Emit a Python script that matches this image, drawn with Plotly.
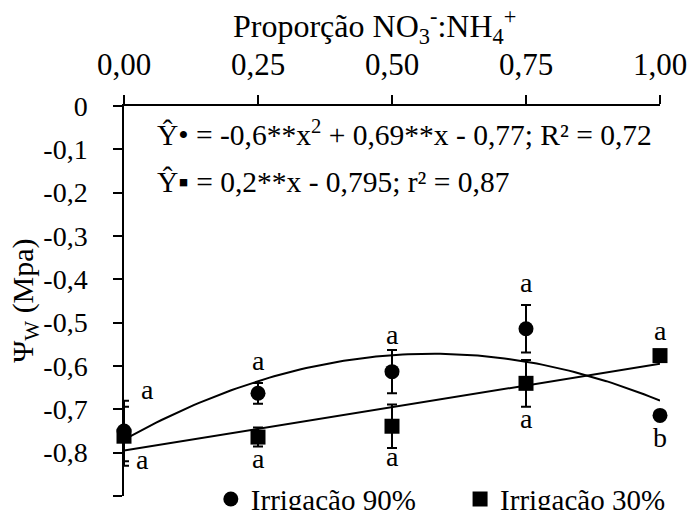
import numpy as np
import plotly.graph_objects as go

# ---- data ----
x_vals = [0.0, 0.25, 0.50, 0.75, 1.0]
x_ticktext = ["0,00", "0,25", "0,50", "0,75", "1,00"]
y_tickvals = [0, -0.1, -0.2, -0.3, -0.4, -0.5, -0.6, -0.7, -0.8, -0.9]
y_ticktext = ["0", "-0,1", "-0,2", "-0,3", "-0,4", "-0,5", "-0,6", "-0,7", "-0,8", "-0,9"]

irr90_mean = [-0.750, -0.663, -0.613, -0.514, -0.714]
irr90_err = [0.070, 0.024, 0.050, 0.055, 0.008]
irr90_letters = ["a", "a", "a", "a", "b"]

irr30_mean = [-0.762, -0.764, -0.739, -0.640, -0.576]
irr30_err = [0.068, 0.022, 0.050, 0.054, 0.008]
irr30_letters = ["a", "a", "a", "a", "a"]

# regression coefficients printed on the chart (highest power first)
fit90_coef = [-0.6, 0.69, -0.77]
fit30_coef = [0.2, -0.795]

eq90 = "Ŷ• = -0,6**x<sup>2</sup> + 0,69**x - 0,77; R² = 0,72"
eq30 = "Ŷ▪ = 0,2**x - 0,795; r² = 0,87"

FONT = "Liberation Serif, Times New Roman, serif"

fig = go.Figure()

xs = np.linspace(0, 1, 101)
fig.add_trace(go.Scatter(x=xs, y=np.polyval(fit90_coef, xs), mode="lines",
                         line=dict(color="black", width=2), showlegend=False,
                         hoverinfo="skip", cliponaxis=False))
fig.add_trace(go.Scatter(x=xs, y=np.polyval(fit30_coef, xs), mode="lines",
                         line=dict(color="black", width=2), showlegend=False,
                         hoverinfo="skip", cliponaxis=False))

fig.add_trace(go.Scatter(x=x_vals, y=irr90_mean, mode="markers", name="Irrigação 90%",
                         marker=dict(symbol="circle", size=15, color="black"),
                         error_y=dict(type="data", array=irr90_err, color="black",
                                      thickness=2, width=5),
                         cliponaxis=False, legend="legend"))
fig.add_trace(go.Scatter(x=x_vals, y=irr30_mean, mode="markers", name="Irrigação 30%",
                         marker=dict(symbol="square", size=15, color="black"),
                         error_y=dict(type="data", array=irr30_err, color="black",
                                      thickness=2, width=5),
                         cliponaxis=False, legend="legend2"))

# letter annotations (pixel offsets from each point)
shift90 = [(23, 42), (0, 33), (0, 37), (0, 46), (0, -22)]
shift30 = [(18, -23), (0, -21), (0, -30), (0, -35), (0, 25)]
annos = []
for xv, yv, t, (dx, dy) in zip(x_vals, irr90_mean, irr90_letters, shift90):
    annos.append(dict(x=xv, y=yv, text=t, showarrow=False, xshift=dx, yshift=dy,
                      font=dict(family=FONT, size=28, color="black")))
for xv, yv, t, (dx, dy) in zip(x_vals, irr30_mean, irr30_letters, shift30):
    annos.append(dict(x=xv, y=yv, text=t, showarrow=False, xshift=dx, yshift=dy,
                      font=dict(family=FONT, size=28, color="black")))

annos.append(dict(xref="paper", yref="paper", x=0.058, y=0.93, xanchor="left",
                  yanchor="middle", text=eq90, showarrow=False,
                  font=dict(family=FONT, size=29.5, color="black")))
annos.append(dict(xref="paper", yref="paper", x=0.058, y=0.806, xanchor="left",
                  yanchor="middle", text=eq30, showarrow=False,
                  font=dict(family=FONT, size=29.5, color="black")))
annos.append(dict(xref="paper", yref="paper", x=0.467, y=1.205, xanchor="center",
                  yanchor="middle",
                  text="Proporção NO<sub>3</sub><sup>-</sup>:NH<sub>4</sub><sup>+</sup>",
                  showarrow=False, font=dict(family=FONT, size=32, color="black")))
# y-axis title
annos.append(dict(xref="paper", yref="paper", x=-0.185, y=0.5, xanchor="center",
                  yanchor="middle", textangle=-90,
                  text="Ψ<sub>W</sub> (Mpa)", showarrow=False,
                  font=dict(family=FONT, size=30, color="black")))

legend_common = dict(orientation="h", yanchor="middle", xanchor="left",
                     bgcolor="rgba(0,0,0,0)", itemwidth=30,
                     font=dict(family=FONT, size=29, color="black"))

fig.update_layout(
    width=691, height=510,
    margin=dict(l=124, r=31, t=106, b=14, autoexpand=False),
    paper_bgcolor="white", plot_bgcolor="white",
    font=dict(family=FONT, size=31, color="black"),
    annotations=annos,
    legend=dict(x=0.162, y=-0.008, **legend_common),
    legend2=dict(x=0.627, y=-0.008, **legend_common),
    xaxis=dict(side="top", range=[0, 1], tickvals=x_vals, ticktext=x_ticktext,
               showline=True, linecolor="black", linewidth=1.5, ticks="outside",
               ticklen=9, tickwidth=1.5, tickcolor="black", showgrid=False,
               zeroline=False, ticklabelstandoff=8,
               tickfont=dict(family=FONT, size=31, color="black")),
    yaxis=dict(range=[-0.9, 0], tickvals=y_tickvals, ticktext=y_ticktext,
               showline=True, linecolor="black", linewidth=1.5, ticks="outside",
               ticklen=9, tickwidth=1.5, tickcolor="black", showgrid=False,
               zeroline=False, ticklabelstandoff=20,
               tickfont=dict(family=FONT, size=28, color="black")),
)

fig.write_html("out.html")
